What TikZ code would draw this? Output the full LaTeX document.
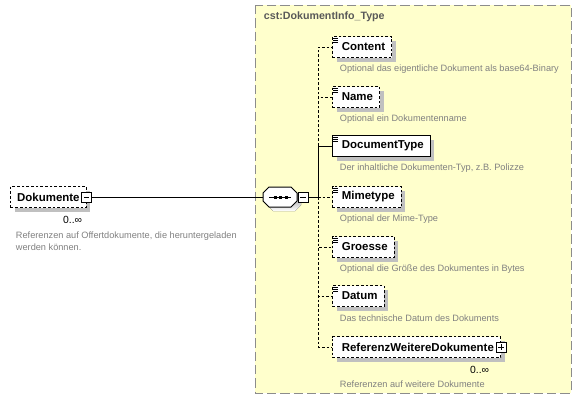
\documentclass[tikz,border=0pt]{standalone}
\usepackage{fontspec}
\setmainfont{Liberation Sans}
\usetikzlibrary{shadows}

\definecolor{typebg}{HTML}{FFFFCC}
\definecolor{typeframe}{HTML}{8C8C8C}
\definecolor{desctext}{HTML}{808080}
\definecolor{shade}{HTML}{C0C0C0}

\tikzset{
  elem/.style={draw, fill=white, anchor=west, minimum height=15.75pt, inner xsep=5pt,
    font=\fontsize{8.6}{10}\selectfont\bfseries,
    general shadow={fill=shade, shadow xshift=3pt, shadow yshift=-3pt}},
  reqelem/.style={elem},
  optelem/.style={elem, dash pattern=on 2pt off 1.5pt},
  reqlink/.style={solid},
  optlink/.style={dash pattern=on 2pt off 1.5pt},
  pm/.style={draw, fill=white, solid, minimum size=7.5pt, inner sep=0pt},
  desc/.style={anchor=west, text=desctext, font=\fontsize{6.9}{8.6}\selectfont},
  mult/.style={anchor=east, font=\fontsize{7.8}{9}\selectfont},
}

\begin{document}
\begin{tikzpicture}[x=0.75pt, y=-0.75pt, line width=0.75pt]
\useasboundingbox (0,0) rectangle (581,407);
% complex type frame
\draw[typeframe, fill=typebg, dash pattern=on 7pt off 3pt] (255,5) rectangle (571,393);
\node[anchor=west, text=black!65, font=\fontsize{8}{9}\selectfont\bfseries] (typename) at (259,17) {cst:DokumentInfo\_Type};

% root element
\node[optelem] (doku) at (10,197) {Dokumente\hspace{5pt}};
\node[pm] (dokupm) at (doku.east) {};
\draw[line width=0.6pt] ([xshift=-2pt]dokupm.center) -- ([xshift=2pt]dokupm.center);
\node[mult] (dokumult) at (87,220) {0..∞};
\node[desc, align=left, anchor=north west] (dokudesc) at (11,227) {Referenzen auf Offertdokumente, die heruntergeladen\\werden können.};

% sequence
\fill[shade] (267,197) -- (273,191) -- (295,191) -- (301,197) -- (301,205) -- (295,211) -- (273,211) -- (267,205) -- cycle;
\draw[fill=white] (263,193) -- (269,187) -- (291,187) -- (297,193) -- (297,201) -- (291,207) -- (269,207) -- (263,201) -- cycle;
\node[minimum width=25.5pt, minimum height=15pt, inner sep=0pt] (seq) at (280,197) {};
\draw (269,197) -- (291,197);
\foreach \k in {275,280.5,286} \fill (\k-1.5,195.5) rectangle ++(3,3);
\node[pm, anchor=west] (seqpm) at (seq.east) {};
\draw[line width=0.6pt] ([xshift=-2pt]seqpm.center) -- ([xshift=2pt]seqpm.center);
\coordinate (trunk) at (318,197);
\draw (dokupm.east) -- (seq.west);
\draw (seqpm.east) -- (trunk);

% children
\foreach \nm/\txt/\y/\kind/\info in {
  content/Content/47/opt/{Optional das eigentliche Dokument als base64-Binary},
  name/Name/97/opt/{Optional ein Dokumentenname},
  doctype/DocumentType/146/req/{Der inhaltliche Dokumenten-Typ, z.B. Polizze},
  mime/Mimetype/197/opt/{Optional der Mime-Type},
  groesse/Groesse/247/opt/{Optional die Größe des Dokumentes in Bytes},
  datum/Datum/296/opt/{Das technische Datum des Dokuments}}
{
  \node[\kind elem] (\nm) at (332,\y) {\hspace{2pt}\txt};
  \foreach \k in {2,4,6} \draw[solid, line width=0.6pt] ([xshift=0.75pt]\nm.north west) ++(0,\k) -- ++(5,0);
  \node[desc] (\nm desc) at (335,\y+22) {\info};
  \draw[\kind link] (trunk) |- (\nm.west);
}

% nested reference
\node[optelem] (ref) at (332,347) {\hspace{2pt}ReferenzWeitereDokumente\hspace{5pt}};
\node[pm] (refpm) at (ref.east) {};
\draw[line width=0.6pt] ([xshift=-2pt]refpm.center) -- ([xshift=2pt]refpm.center)
  ([yshift=-2pt]refpm.center) -- ([yshift=2pt]refpm.center);
\node[mult] (refmult) at (494,370) {0..∞};
\node[desc] (refdesc) at (335,384) {Referenzen auf weitere Dokumente};
\draw[optlink] (trunk) |- (ref.west);
\end{tikzpicture}
\end{document}
